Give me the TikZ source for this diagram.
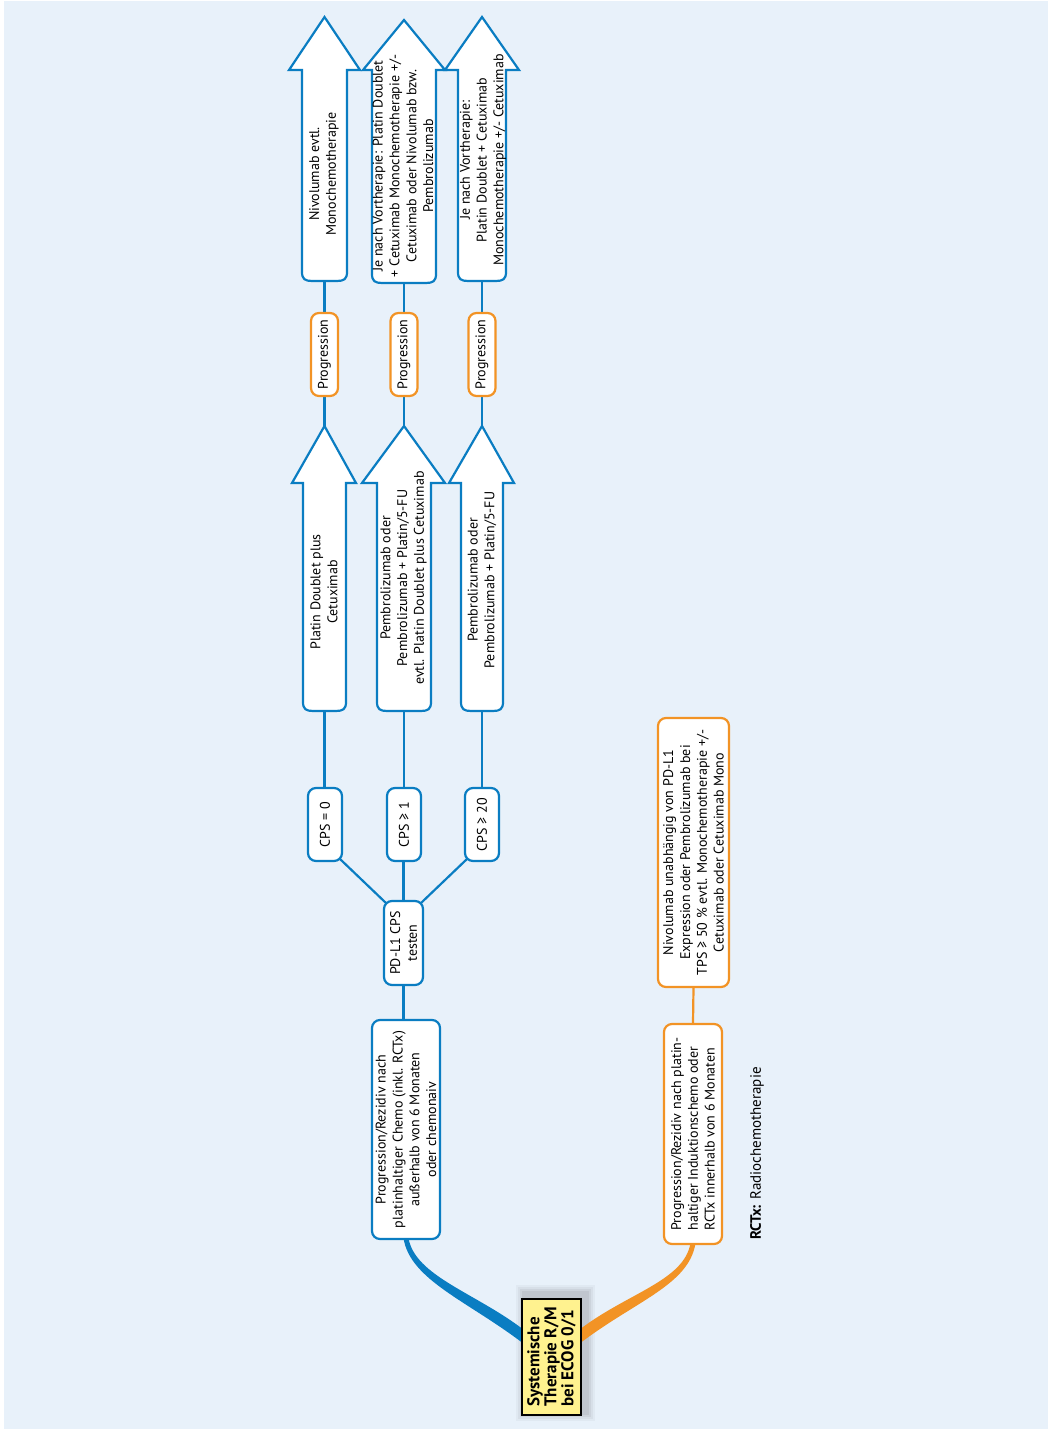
\documentclass[tikz,border=0pt]{standalone}
\usepackage{fontspec}
\setmainfont{PT Sans}
\usetikzlibrary{calc}
\definecolor{bgblue}{HTML}{E8F1FA}
\definecolor{mblue}{HTML}{0A7DC2}
\definecolor{morange}{HTML}{F29325}
\definecolor{myellow}{HTML}{FFF28F}
\pgfdeclarelayer{back}
\pgfsetlayers{back,main}

% upward therapy arrow with rounded foot:
% #1 name, #2/#3 shaft left/right, #4/#5 wing left/right, #6 head base y, #7 tip y, #8 foot y
\newcommand\therapyarrow[8]{%
  \pgfmathsetmacro\arrmid{(#2+#3)/2}
  \draw[arrowbody] (#4,#6) -- (#2,#6) -- (#2,#8-9)
    .. controls (#2,#8-2) and (#2+3,#8) .. (#2+10,#8) -- (#3-10,#8)
    .. controls (#3-3,#8) and (#3,#8-2) .. (#3,#8-9) -- (#3,#6) -- (#5,#6)
    -- (\arrmid,#7) -- cycle;
  \coordinate (#1-tip) at (\arrmid,#7);
  \coordinate (#1-foot) at (\arrmid,#8);
}

\begin{document}
\begin{tikzpicture}[x=1pt,y=-1pt,
  txt/.style={font=\fontsize{14}{16.8}\selectfont},
  box/.style={txt, draw=mblue, line width=2.2pt, rounded corners=8pt, fill=white,
    rotate=90, align=center, inner sep=1pt},
  obox/.style={box, draw=morange},
  arrowbody/.style={draw=mblue, line width=2.2pt, fill=white, line join=miter},
  arrowtext/.style={txt, rotate=90, align=center, inner sep=0pt},
  link/.style={draw=mblue, line width=2.2pt},
  olink/.style={draw=morange, line width=2.2pt}]

\useasboundingbox (0,0) rectangle (1048,1429);
\begin{pgfonlayer}{back}
  \fill[white] (0,0) rectangle (1048,1429);
  \fill[bgblue] (4,1) rectangle (1048,1429);
\end{pgfonlayer}

% root
\node[draw=black, line width=2pt, fill=myellow, rotate=90, align=left,
  minimum width=116pt, minimum height=59pt, inner sep=1pt,
  font=\fontsize{17}{17}\selectfont\bfseries]
  (root) at (551.5,1357) {Systemische\\Therapie R/M\\bei ECOG 0/1};

% first branch
\node[box, minimum width=219pt, minimum height=68pt] (A) at (406,1129.5)
  {Progression/Rezidiv nach\\platinhaltiger Chemo (inkl. RCTx)\\außerhalb von 6 Monaten\\oder chemonaiv};
\node[box, minimum width=84pt, minimum height=39pt] (pd) at (403.5,943)
  {PD-L1 CPS\\testen};
\node[box, minimum width=73pt, minimum height=34pt] (cps0) at (325,824.5) {CPS = 0};
\node[box, minimum width=73pt, minimum height=34pt] (cps1) at (404,824.5) {CPS ≥ 1};
\node[box, minimum width=73pt, minimum height=34pt] (cps20) at (482,824.5) {CPS ≥ 20};

% first-line therapy arrows
\therapyarrow{a1}{303}{346}{292}{356}{483}{426}{711}
\therapyarrow{a2}{377}{431}{362}{445}{483}{426}{711}
\therapyarrow{a3}{461}{503}{449}{514}{483}{426}{711}
\node[arrowtext] (a1txt) at (324,592) {Platin Doublet plus\\Cetuximab};
\node[arrowtext] (a2txt) at (403.5,578) {Pembrolizumab oder\\Pembrolizumab + Platin/5-FU\\evtl. Platin Doublet plus Cetuximab};
\node[arrowtext] (a3txt) at (482,580) {Pembrolizumab oder\\Pembrolizumab + Platin/5-FU};

% progression
\node[obox, minimum width=83pt, minimum height=27pt] (p1) at (324.5,354.5) {Progression};
\node[obox, minimum width=83pt, minimum height=27pt] (p2) at (404,354.5) {Progression};
\node[obox, minimum width=83pt, minimum height=27pt] (p3) at (482,354.5) {Progression};

% second-line therapy arrows
\therapyarrow{t1}{302}{347}{289}{360}{70}{17}{281}
\therapyarrow{t2}{372}{436}{363}{445}{70}{20}{283}
\therapyarrow{t3}{458}{506}{445}{519}{70}{17}{281}
\node[arrowtext] (t1txt) at (324,174) {Nivolumab evtl.\\Monochemotherapie};
\node[arrowtext] (t2txt) at (403,166) {Je nach Vortherapie: Platin Doublet\\+ Cetuximab Monochemotherapie +/-\\Cetuximab oder Nivolumab bzw.\\Pembrolizumab};
\node[arrowtext] (t3txt) at (483,160) {Je nach Vortherapie:\\Platin Doublet + Cetuximab\\Monochemotherapie +/- Cetuximab};

% second branch
\node[obox, minimum width=220pt, minimum height=58pt, align=left] (B) at (693,1134)
  {Progression/Rezidiv nach platin-\\haltiger Induktionschemo oder\\RCTx innerhalb von 6 Monaten};
\node[obox, minimum width=269pt, minimum height=71pt] (C) at (693.5,852.5)
  {Nivolumab unabhängig von PD-L1\\Expression oder Pembrolizumab bei\\TPS ≥ 50 \% evtl. Monochemotherapie +/-\\Cetuximab oder Cetuximab Mono};

% legend
\node[rotate=90, anchor=west, inner sep=0pt, font=\fontsize{15}{18}\selectfont] (legend) at (757,1240)
  {\textbf{RCTx:} Radiochemotherapie};

\begin{pgfonlayer}{back}
  % soft shadow of the root box
  \foreach \i/\o in {9/0.03,7/0.04,5/0.05,3/0.06}
    \fill[black, opacity=\o] ($(root.north east)+(4-\i,-4-\i)$) rectangle ($(root.south west)+(4+\i,-4+\i)$);

  % tapered branches out of the root
  \coordinate (s1) at (A.west);
  \coordinate (e1) at ($(root.north)+(3,-20)$);
  \fill[mblue] ($(s1)+(-2.5,-2)$) .. controls ($(s1)+(4,40)$) and ($(e1)+(-56,-36)$) .. ($(e1)+(0,7)$)
    -- ($(e1)+(0,-7)$) .. controls ($(e1)+(-48,-44)$) and ($(s1)+(9,36)$) .. ($(s1)+(2.5,-2)$) -- cycle;
  \coordinate (s2) at (B.west);
  \coordinate (e2) at ($(root.south)+(-3,-20)$);
  \fill[morange] ($(s2)+(-2.5,-2)$) .. controls ($(s2)+(-9,36)$) and ($(e2)+(48,-44)$) .. ($(e2)+(0,-7)$)
    -- ($(e2)+(0,7)$) .. controls ($(e2)+(56,-36)$) and ($(s2)+(-4,40)$) .. ($(s2)+(2.5,-2)$) -- cycle;

  % connectors
  \draw[link] (pd.west |- A.east) -- (pd.west);
  \draw[link] ($(pd.north east)+(3,3)$) -- ($(cps0.south west)+(-3,-3)$);
  \draw[link] (pd.west |- pd.east) -- (pd.west |- cps1.west);
  \draw[link] ($(pd.south east)+(-3,3)$) -- ($(cps20.north west)+(3,-3)$);
  \draw[link] (a1-foot |- cps0.east) -- (a1-foot);
  \draw[link] (a2-foot |- cps1.east) -- (a2-foot);
  \draw[link] (a3-foot |- cps20.east) -- (a3-foot);
  \draw[link] (a1-tip) -- (a1-tip |- p1.west);
  \draw[link] (a2-tip) -- (a2-tip |- p2.west);
  \draw[link] (a3-tip) -- (a3-tip |- p3.west);
  \draw[link] (t1-foot |- p1.east) -- (t1-foot);
  \draw[link] (t2-foot |- p2.east) -- (t2-foot);
  \draw[link] (t3-foot |- p3.east) -- (t3-foot);
  \draw[olink] (B.east) -- (C.west);
\end{pgfonlayer}
\end{tikzpicture}
\end{document}
